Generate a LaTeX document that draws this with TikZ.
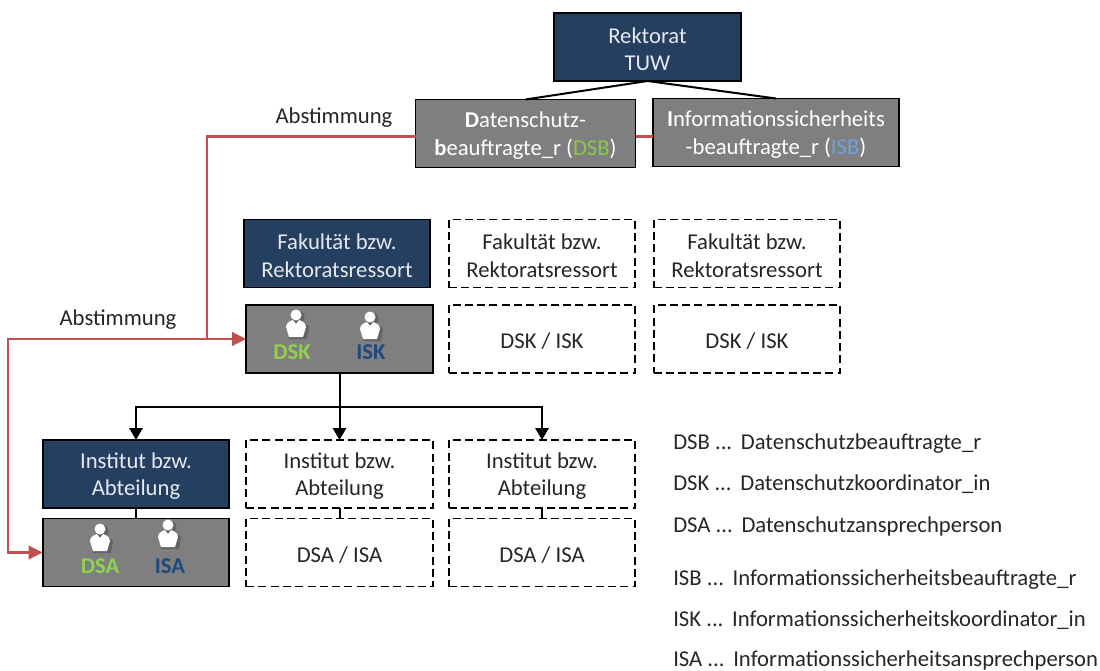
\documentclass[tikz,border=0pt]{standalone}
\usepackage{fontspec}
\setmainfont{Carlito}
\usetikzlibrary{arrows.meta}
\definecolor{navybox}{HTML}{243F60}
\definecolor{greybox}{HTML}{7F7F7F}
\definecolor{redlink}{HTML}{C0504D}
\definecolor{dsgreen}{HTML}{92D050}
\definecolor{dsbgreen}{HTML}{8CC84B}
\definecolor{isblue}{HTML}{1F497D}
\definecolor{islight}{HTML}{6FA3DC}
\definecolor{inktext}{HTML}{262626}
\newcommand{\lift}{\rule{0pt}{15pt}}
\tikzset{
  unit/.style={draw=black,line width=1.3pt,minimum width=140pt,minimum height=51pt,
    inner sep=0pt,outer sep=0pt,align=center,font=\fontsize{17}{20.5}\selectfont},
  navy/.style={unit,fill=navybox,text=white!88!navybox},
  grey/.style={unit,fill=greybox,text=white},
  open/.style={unit,dashed,dash pattern=on 6pt off 3.2pt,text=inktext},
  plain/.style={inner sep=0pt,font=\fontsize{17}{20.5}\selectfont,text=inktext},
  legend/.style={plain,anchor=west},
  role/.style={inner sep=0pt,font=\fontsize{17}{20.5}\selectfont\bfseries},
  link/.style={line width=1.5pt,black},
  redline/.style={line width=2pt,redlink},
  blacktip/.style={-{Triangle[length=9pt,width=10pt]}},
  redtip/.style={-{Triangle[length=10.5pt,width=10pt]}},
  person/.pic={
    \fill[black,opacity=.22] (2,-6) circle (6.5) (-7,16) -- (-9,4) .. controls (-8,-1) and (12,-1) .. (13,4) -- (11,16) -- cycle;
    \fill[white] (0,-8) circle (5.5);
    \fill[white] (-7,14) -- (-10,4) .. controls (-10,-1) and (-5,-2) .. (-3,-3) -- (0,1) -- (3,-3)
      .. controls (5,-2) and (10,-1) .. (10,4) -- (7,14) -- cycle;
  }
}
\begin{document}
\begin{tikzpicture}[x=.75pt,y=-.75pt]
  \useasboundingbox (0,0) rectangle (1100,671);
  \draw
    (647.5,47) node[navy] (rektorat){\lift Rektorat\\TUW}
    (525.5,133.5) node[grey,minimum width=165pt] (dsb){\lift\textbf{D}atenschutz-\\\textbf{b}eauftragte\_r (\textcolor{dsbgreen}{DSB})}
    (776,132.5) node[grey,minimum width=184pt] (isb){\lift\textbf{I}nformationssicherheits\\-beauftragte\_r (\textcolor{islight}{ISB})}
    (337,253.5) node[navy] (fak1){\lift Fakultät bzw.\\Rektoratsressort}
    (542,253.5) node[open] (fak2){\lift Fakultät bzw.\\Rektoratsressort}
    (747,253.5) node[open] (fak3){\lift Fakultät bzw.\\Rektoratsressort}
    (339.5,339) node[grey] (dsk1){}
    (542,339) node[open] (dsk2){\lift DSK / ISK}
    (747,339) node[open] (dsk3){\lift DSK / ISK}
    (136,474) node[navy] (inst1){\lift Institut bzw.\\Abteilung}
    (339.5,474) node[open] (inst2){\lift Institut bzw.\\Abteilung}
    (542,474) node[open] (inst3){\lift Institut bzw.\\Abteilung}
    (136,552.5) node[grey] (dsa1){}
    (339.5,552.5) node[open] (dsa2){\lift DSA / ISA}
    (542,552.5) node[open] (dsa3){\lift DSA / ISA};
  \coordinate (split) at (339.5,407);
  \coordinate (redtop) at (0,136.5);
  \coordinate (redjoin) at (207,339);
  \coordinate (redleft) at (8,339);
  \begin{scope}[link]
    \draw (rektorat.south) to (dsb.north);
    \draw (rektorat.south) to (isb.north);
    \draw[blacktip] (dsk1.south) to (inst2.north);
    \draw[blacktip] (split) -| (inst1.north);
    \draw[blacktip] (split) -| (inst3.north);
    \draw (inst1) to (dsa1);
    \draw (inst2) to (dsa2);
    \draw (inst3) to (dsa3);
  \end{scope}
  \begin{scope}[redline]
    \draw (dsb.east |- redtop) to (isb.west |- redtop);
    \draw[redtip] (dsb.west |- redtop) -| (redjoin) to (dsk1.west);
    \draw[redtip] (redjoin) to (redleft) |- (dsa1.west);
  \end{scope}
  \pic at (296,323) {person};
  \pic at (370,325) {person};
  \pic at (100,537) {person};
  \pic at (168,533) {person};
  \draw
    (292,352) node[role,text=dsgreen] (dsklabel){DSK}
    (371,352) node[role,text=isblue] (isklabel){ISK}
    (100,566) node[role,text=dsgreen] (dsalabel){DSA}
    (170,566) node[role,text=isblue] (isalabel){ISA}
    (334,118) node[plain] (abst1){Abstimmung}
    (118,320) node[plain] (abst2){Abstimmung}
    (673,444) node[legend] (leg1){DSB ...\hspace{6.5pt}Datenschutzbeauftragte\_r}
    (673,484) node[legend] (leg2){DSK ...\hspace{6.5pt}Datenschutzkoordinator\_in}
    (673,526) node[legend] (leg3){DSA ...\hspace{6.5pt}Datenschutzansprechperson}
    (673,580) node[legend] (leg4){ISB ...\hspace{6.5pt}Informationssicherheitsbeauftragte\_r}
    (673,620) node[legend] (leg5){ISK ...\hspace{6.5pt}Informationssicherheitskoordinator\_in}
    (673,660.5) node[legend] (leg6){ISA ...\hspace{6.5pt}Informationssicherheitsansprechperson};
\end{tikzpicture}
\end{document}
